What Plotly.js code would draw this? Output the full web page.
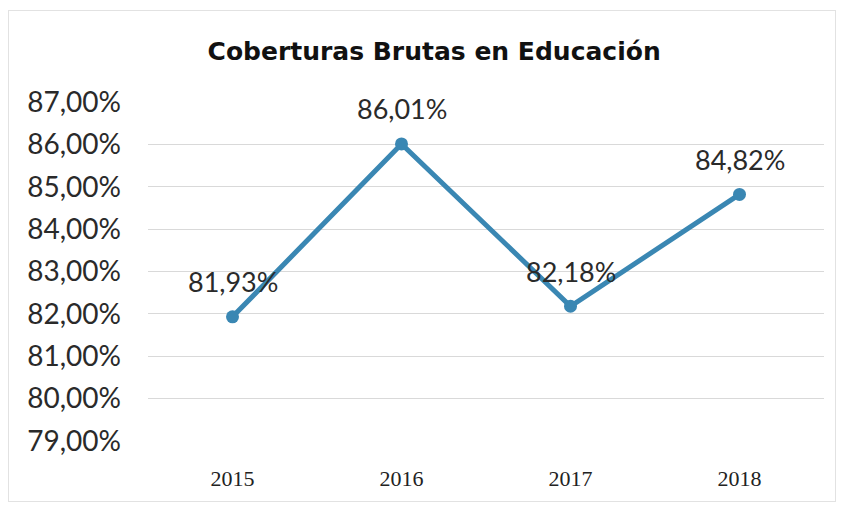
<!DOCTYPE html>
<html>
<head>
<meta charset="utf-8">
<script src="https://cdn.plot.ly/plotly-3.0.1.min.js"></script>
<style>
html,body{margin:0;padding:0;background:#fff;}
#wrap{position:relative;width:843px;height:508px;}
#chart{width:843px;height:508px;}
#frame{position:absolute;left:8px;top:10px;width:826px;height:490px;border:1px solid #e2e2e2;pointer-events:none;}
</style>
</head>
<body>
<div id="wrap"><div id="chart"></div><div id="frame"></div></div>
<script>
const years = ["2015", "2016", "2017", "2018"];
const cobertura = [0.8193, 0.8601, 0.8218, 0.8482];
const yTicks = [0.79, 0.80, 0.81, 0.82, 0.83, 0.84, 0.85, 0.86, 0.87];

const trace = {
  x: years,
  y: cobertura,
  type: "scatter",
  mode: "lines+markers",
  line: {color: "#3a87b3", width: 5},
  marker: {color: "#3a87b3", size: 13},
  hoverinfo: "skip"
};

const annotations = years.map((yr, i) => ({
  x: i,
  y: cobertura[i],
  xref: "x",
  yref: "y",
  text: (cobertura[i] * 100).toFixed(2).replace(".", ",") + "%",
  showarrow: false,
  yanchor: "middle",
  xanchor: "center",
  yshift: 35,
  font: {family: "Lato, sans-serif", size: 27, color: "#2a2a2a"}
}));

const layout = {
  width: 843, height: 508,
  paper_bgcolor: "#ffffff",
  plot_bgcolor: "#ffffff",
  separators: ",.",
  margin: {l: 148, r: 19, t: 102, b: 67},
  title: {
    text: "<b>Coberturas Brutas en Educación</b>",
    font: {family: "'DejaVu Sans', sans-serif", size: 25, color: "#111"},
    x: 0.515, xanchor: "center",
    y: 0.9, yanchor: "middle"
  },
  showlegend: false,
  xaxis: {
    type: "category",
    range: [-0.5, 3.5],
    showgrid: false,
    zeroline: false,
    showline: false,
    ticks: "",
    tickfont: {family: "'Liberation Serif', serif", size: 22, color: "#222"},
    ticklabelstandoff: 22
  },
  yaxis: {
    range: [0.79, 0.87],
    tickvals: yTicks,
    tickformat: ".2%",
    showgrid: true,
    gridcolor: "#d9d9d9",
    gridwidth: 1,
    zeroline: false,
    showline: false,
    ticks: "",
    tickfont: {family: "Lato, sans-serif", size: 28, color: "#2a2a2a"},
    ticklabelstandoff: 26
  },
  annotations: annotations
};

Plotly.newPlot("chart", [trace], layout, {displayModeBar: false, staticPlot: true});
</script>
</body>
</html>
